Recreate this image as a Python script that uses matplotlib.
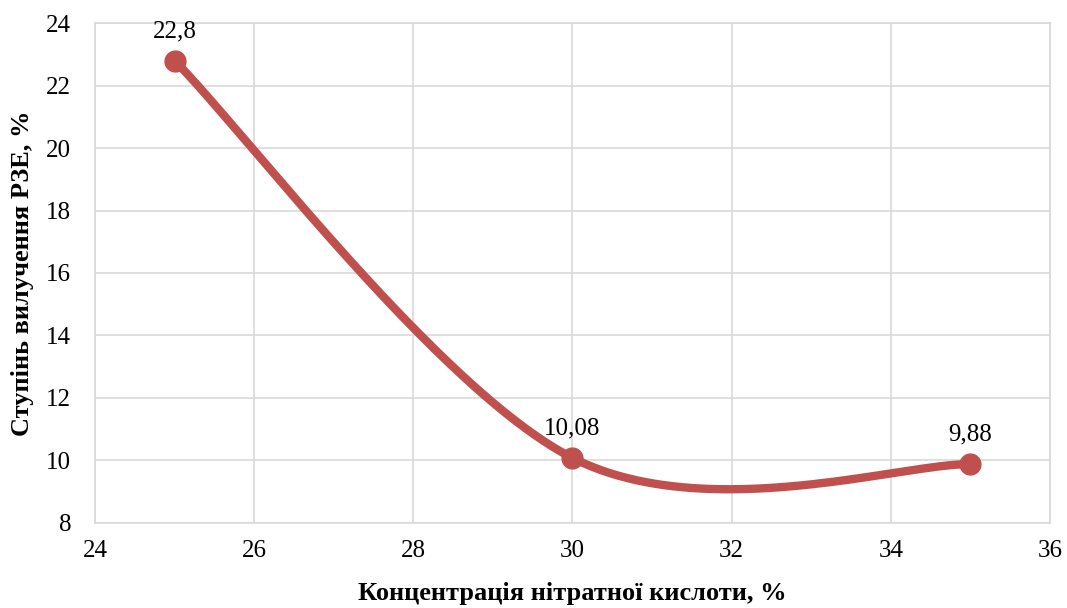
import numpy as np
import matplotlib
matplotlib.use('Agg')
import matplotlib.pyplot as plt

# data
conc = [25, 30, 35]
extraction = [22.8, 10.08, 9.88]
labels = ['22,8', '10,08', '9,88']

plt.rcParams['font.family'] = ['Liberation Serif', 'DejaVu Serif']

# Excel-style smoothed line (cubic Bezier, Catmull-Rom control points)
x = np.array(conc, dtype=float)
y = np.array(extraction, dtype=float)
px = np.concatenate([[x[0]], x, [x[-1]]])
py = np.concatenate([[y[0]], y, [y[-1]]])
sx, sy = [], []
t = np.linspace(0, 1, 100)
for i in range(1, len(px) - 2):
    p0 = np.array([px[i], py[i]])
    p3 = np.array([px[i + 1], py[i + 1]])
    c1 = p0 + (np.array([px[i + 1], py[i + 1]]) - np.array([px[i - 1], py[i - 1]])) / 6
    c2 = p3 - (np.array([px[i + 2], py[i + 2]]) - np.array([px[i], py[i]])) / 6
    b = ((1 - t) ** 3)[:, None] * p0 + (3 * (1 - t) ** 2 * t)[:, None] * c1 \
        + (3 * (1 - t) * t ** 2)[:, None] * c2 + (t ** 3)[:, None] * p3
    sx.extend(b[:, 0])
    sy.extend(b[:, 1])

fig = plt.figure(figsize=(10.67, 6.08), dpi=100)
ax = fig.add_axes([0.089, 0.140, 0.895, 0.822])

ax.plot(sx, sy, color='#C0504D', lw=6, solid_capstyle='round', zorder=3)
ax.plot(conc, extraction, 'o', color='#C0504D', markersize=15, zorder=4)

for xi, yi, lab in zip(conc, extraction, labels):
    ax.annotate(lab, (xi, yi), xytext=(0, 17), textcoords='offset points',
                ha='center', va='baseline', fontsize=18)

ax.set_xlim(24, 36)
ax.set_ylim(8, 24)
ax.set_xticks(np.arange(24, 37, 2))
ax.set_yticks(np.arange(8, 25, 2))
ax.grid(True, color='#D9D9D9', lw=1.2)
ax.set_axisbelow(True)
for s in ax.spines.values():
    s.set_color('#D9D9D9')
    s.set_linewidth(1.2)
ax.tick_params(length=0, labelsize=18)
ax.tick_params(axis='x', pad=12)
ax.tick_params(axis='y', pad=17)

ax.set_xlabel('Концентрація нітратної кислоти, %', fontsize=19, fontweight='bold', labelpad=15)
ax.set_ylabel('Ступінь вилучення РЗЕ, %', fontsize=19, fontweight='bold', labelpad=9)

fig.savefig('out.png', dpi=100)
